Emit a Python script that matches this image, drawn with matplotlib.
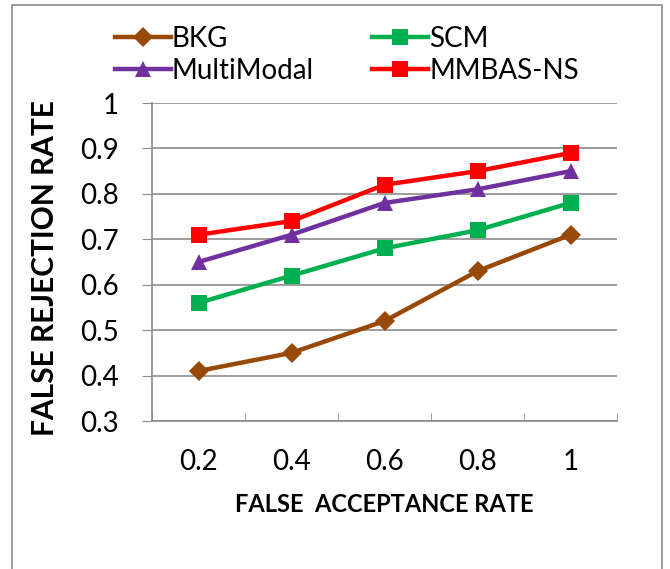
import matplotlib
matplotlib.use("Agg")
import matplotlib.pyplot as plt
from matplotlib.patches import Rectangle
from matplotlib.lines import Line2D

plt.rcParams['font.family'] = ['Lato', 'DejaVu Sans']

categories = ["0.2", "0.4", "0.6", "0.8", "1"]
bkg = [0.41, 0.45, 0.52, 0.63, 0.71]
scm = [0.56, 0.62, 0.68, 0.72, 0.78]
multimodal = [0.65, 0.71, 0.78, 0.81, 0.85]
mmbas = [0.71, 0.74, 0.82, 0.85, 0.89]
yticks = [0.3, 0.4, 0.5, 0.6, 0.7, 0.8, 0.9, 1.0]
ytick_labels = ["0.3", "0.4", "0.5", "0.6", "0.7", "0.8", "0.9", "1"]

W, H = 670, 569
fig = plt.figure(figsize=(W/100, H/100), dpi=100)

# outer border
fig.patches.append(Rectangle((12/W, -0.1), (662-12)/W, 1.1 - 5/H, transform=fig.transFigure,
                             fill=False, edgecolor='#8c8c8c', linewidth=1.2))

ax = fig.add_axes([152/W, 1-421/H, (617-152)/W, (421-103)/H])
x = list(range(len(categories)))
grid_c = '#8c8c8c'

series = [
    ("BKG", bkg, '#984807', 'D', 10),
    ("SCM", scm, '#00B050', 's', 11),
    ("MultiModal", multimodal, '#7030A0', '^', 12),
    ("MMBAS-NS", mmbas, '#FF0000', 's', 11),
]
handles = {}
for name, vals, c, m, ms in series:
    ax.plot(x, vals, color=c, marker=m, markersize=ms, linewidth=3.2, zorder=3,
            markeredgewidth=0)
    handles[name] = Line2D([], [], color=c, marker=m, markersize=ms, linewidth=3.2,
                           markeredgewidth=0)

ax.set_xlim(-0.5, len(categories)-0.5)
ax.set_ylim(0.3, 1.0)
ax.set_yticks(yticks)
ax.set_yticklabels(ytick_labels, fontsize=20)
ax.set_xticks(x)
ax.set_xticklabels(categories, fontsize=20)
ax.set_xticks([i-0.5 for i in range(len(categories)+1)], minor=True)
ax.tick_params(axis='x', which='major', length=0, pad=20)
ax.tick_params(axis='x', which='minor', length=6, color=grid_c, direction='in')
ax.tick_params(axis='y', length=7, color=grid_c, direction='out', pad=17)
ax.grid(axis='y', color=grid_c, linewidth=1.2)
ax.set_axisbelow(True)
for s in ['top', 'right']:
    ax.spines[s].set_visible(False)
for s in ['left', 'bottom']:
    ax.spines[s].set_color(grid_c)
    ax.spines[s].set_linewidth(1.2)

fig.text(45/W, 1-268/H, "FALSE REJECTION RATE", rotation=90, ha='center', va='center',
         fontsize=21.5, fontweight='bold')
fig.text(384/W, 1-505/H, "FALSE  ACCEPTANCE RATE", ha='center', va='center',
         fontsize=17, fontweight='bold')

order = ["BKG", "MultiModal", "SCM", "MMBAS-NS"]
fig.legend([handles[n] for n in order], order, ncol=2, loc='center left',
           bbox_to_anchor=(115/W, 1-55/H), frameon=False, fontsize=20,
           handlelength=2.0, handletextpad=0.05, columnspacing=2.1, labelspacing=0.22,
           borderaxespad=0, borderpad=0)

fig.savefig("out.png", dpi=100)
